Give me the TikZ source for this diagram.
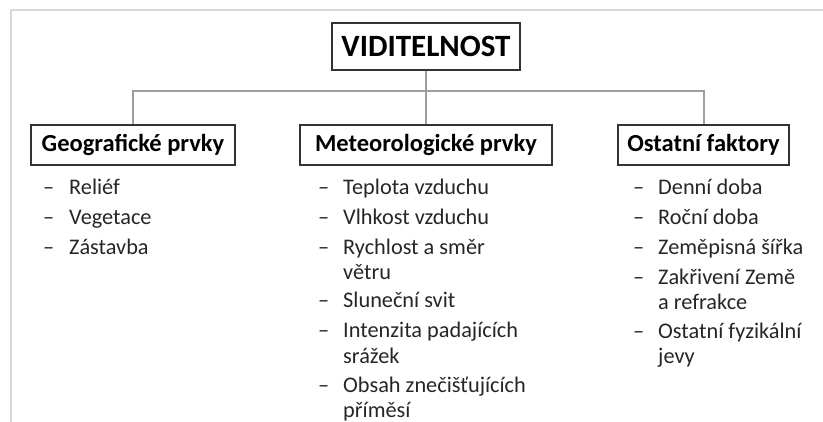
\documentclass[tikz,border=0pt]{standalone}
\usepackage{fontspec}
\setmainfont{Carlito}
\usepackage{tikz}
\usepackage{xcolor}

\newcommand{\twolines}[2]{\begin{tabular}[t]{@{}l@{}}#1\\#2\end{tabular}}

\begin{document}
\begin{tikzpicture}[x=1pt, y=-1pt,
    box/.style={draw=black!80, line width=1.4pt, inner sep=0pt, minimum height=40pt,
        font=\fontsize{24.5}{28}\selectfont\bfseries},
    conn/.style={draw=black!38, line width=2pt},
    dashmark/.style={anchor=base west, inner sep=0pt, text=black!85,
        font=\fontsize{22.3}{25}\selectfont},
    item/.style={anchor=base west, inner sep=0pt, text=black!85,
        font=\fontsize{22.3}{25}\selectfont}]
    \useasboundingbox (0,0) rectangle (823,422);

    % Frame
    \draw[black!15, line width=2.5pt] (11,422) -- (11,10) -- (823,10);

    % Boxes
    \node[box, minimum width=188pt, minimum height=47pt, font=\fontsize{31}{35}\selectfont\bfseries]
        (vid) at (426,46.5) {VIDITELNOST};
    \node[box, minimum width=204pt] (geo) at (133,145) {Geografické prvky};
    \node[box, minimum width=252pt] (meteo) at (426,145) {Meteorologické prvky};
    \node[box, minimum width=171pt] (ost) at (703.5,145) {Ostatní faktory};

    % Lines
    \coordinate (bus) at (426,91);
    \draw[conn] (vid.south) -- (meteo.north);
    \draw[conn] (geo.north) -- (geo.north |- bus) -- (ost.north |- bus) -- (ost.north);

    % Geografické prvky
    \foreach \y/\t [count=\i] in {195/Reliéf, 225/Vegetace, 255/Zástavba}{
        \node[dashmark] (gd\i) at (43,\y) {--};
        \node[item] (gi\i) at (69,\y) {\t};
    }

    % Meteorologické prvky
    \foreach \y/\t [count=\i] in {195/Teplota vzduchu, 225/Vlhkost vzduchu,
        255/{\twolines{Rychlost a směr}{větru}}, 308/Sluneční svit,
        338/{\twolines{Intenzita padajících}{srážek}},
        392/{\twolines{Obsah znečišťujících}{příměsí}}}{
        \node[dashmark] (md\i) at (318,\y) {--};
        \node[item] (mi\i) at (343,\y) {\t};
    }

    % Ostatní faktory
    \foreach \y/\t [count=\i] in {195/Denní doba, 225/Roční doba, 255/Zeměpisná šířka,
        285/{\twolines{Zakřivení Země}{a refrakce}},
        339/{\twolines{Ostatní fyzikální}{jevy}}}{
        \node[dashmark] (od\i) at (633,\y) {--};
        \node[item] (oi\i) at (658,\y) {\t};
    }
\end{tikzpicture}
\end{document}
